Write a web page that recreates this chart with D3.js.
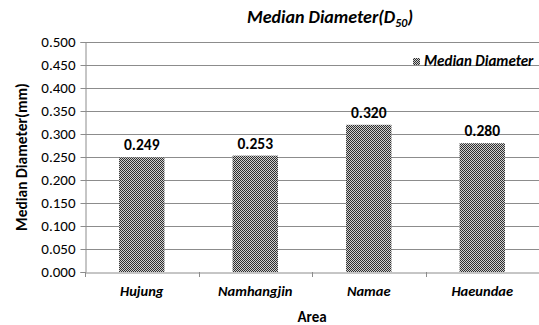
<!DOCTYPE html>
<html><head><meta charset="utf-8">
<script src="https://cdn.jsdelivr.net/npm/d3@7"></script>
<style>body{margin:0;background:#fff}svg{display:block}text{font-family:Carlito,Lato,"Open Sans",sans-serif}</style>
</head><body><svg id="c" width="539" height="325"></svg>
<script>
const categories = ["Hujung","Namhangjin","Namae","Haeundae"];
const values = [0.249,0.253,0.320,0.280];
const yTicks = [0,0.05,0.1,0.15,0.2,0.25,0.3,0.35,0.4,0.45,0.5];
const seriesName = "Median Diameter";

const svg = d3.select("#c");
const L=85, R=539, T=42, B=272;
const x = d3.scaleBand().domain(categories).range([L,R]).paddingInner(0.6).paddingOuter(0.3);
const xb = d3.scaleBand().domain(categories).range([L,R]);
const y = d3.scaleLinear().domain([0,0.5]).range([B,T]);

const defs = svg.append("defs");
const p = defs.append("pattern").attr("id","chk").attr("width",2).attr("height",2).attr("patternUnits","userSpaceOnUse");
p.append("rect").attr("width",2).attr("height",2).attr("fill","#d0d0d0");
p.append("rect").attr("width",1).attr("height",1).attr("fill","#2e2e2e");
p.append("rect").attr("x",1).attr("y",1).attr("width",1).attr("height",1).attr("fill","#2e2e2e");

// gridlines
svg.append("g").selectAll("line").data(yTicks.filter(d=>d>0)).join("line")
  .attr("x1",L).attr("x2",R).attr("y1",d=>Math.round(y(d))+0.5).attr("y2",d=>Math.round(y(d))+0.5)
  .attr("stroke","#8c8c8c").attr("stroke-width",1);

// y axis
const ya = svg.append("g").attr("transform",`translate(${L+0.5},0)`)
  .call(d3.axisLeft(y).tickValues(yTicks).tickFormat(d3.format(".3f")).tickSize(5).tickPadding(5));
ya.select(".domain").attr("stroke","#8c8c8c");
ya.selectAll(".tick line").attr("stroke","#8c8c8c");
ya.selectAll("text").attr("font-size",15).attr("fill","#000");

// x axis
const xa = svg.append("g").attr("transform",`translate(0,${B+0.5})`)
  .call(d3.axisBottom(xb).tickSize(0).tickPadding(13));
xa.select(".domain").attr("stroke","#8c8c8c");
xa.selectAll("text").attr("font-size",14.5).attr("font-weight","bold").attr("font-style","italic").attr("fill","#000");
svg.append("g").selectAll("line").data(categories.concat(["end"])).join("line")
  .attr("x1",(d,i)=>Math.round(L+i*xb.step())+0.5).attr("x2",(d,i)=>Math.round(L+i*xb.step())+0.5)
  .attr("y1",B).attr("y2",B+5).attr("stroke","#8c8c8c");

// bars
svg.append("g").selectAll("rect").data(values).join("rect")
  .attr("x",(d,i)=>x(categories[i])).attr("width",x.bandwidth())
  .attr("y",d=>y(d)).attr("height",d=>B-y(d)).attr("fill","url(#chk)");

// value labels
svg.append("g").selectAll("text").data(values).join("text")
  .attr("x",(d,i)=>x(categories[i])+x.bandwidth()/2).attr("y",d=>y(d)-7)
  .attr("text-anchor","middle").attr("font-size",15.5).attr("font-weight","bold")
  .text(d=>d3.format(".3f")(d));

// title
const t = svg.append("text").attr("x",330).attr("y",23).attr("text-anchor","middle")
  .attr("font-size",18).attr("font-weight","bold").attr("font-style","italic");
t.append("tspan").text("Median Diameter(D");
t.append("tspan").attr("font-size",12).attr("dy",4).text("50");
t.append("tspan").attr("dy",-4).text(")");

// legend
svg.append("rect").attr("x",413).attr("y",58).attr("width",7).attr("height",7).attr("fill","url(#chk)");
svg.append("text").attr("x",424).attr("y",66).attr("font-size",15).attr("font-weight","bold").attr("font-style","italic").text(seriesName);

// axis titles
svg.append("text").attr("transform","translate(22,157) rotate(-90)").attr("text-anchor","middle").attr("dy","0.35em")
  .attr("font-size",15.5).attr("font-weight","bold").text("Median Diameter(mm)");
svg.append("text").attr("x",312).attr("y",322).attr("text-anchor","middle")
  .attr("font-size",15).attr("font-weight","bold").text("Area");
</script></body></html>
